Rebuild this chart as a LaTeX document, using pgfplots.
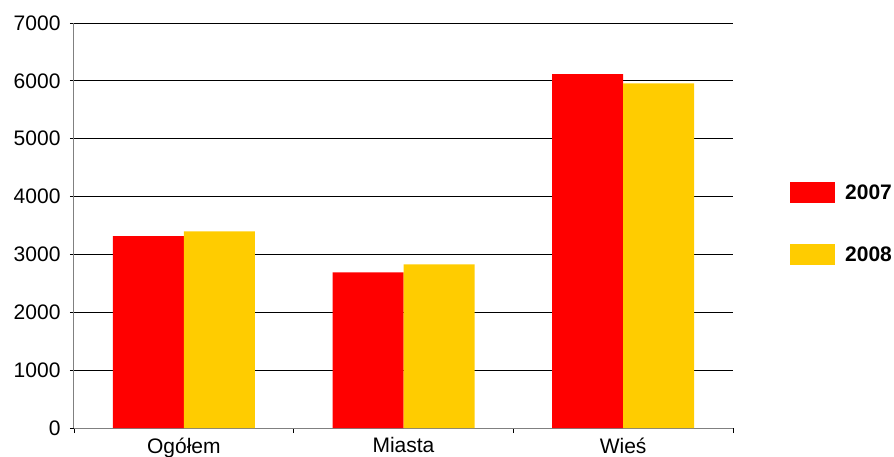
\documentclass[border=0pt]{standalone}
\usepackage{pgfplots}
\pgfplotsset{compat=1.18}
\usepackage{fontspec}
\setmainfont{Liberation Sans}
\definecolor{cred}{RGB}{255,0,0}
\definecolor{cyel}{RGB}{255,204,0}
\definecolor{axgray}{RGB}{128,128,128}
\begin{document}
\begin{tikzpicture}
\useasboundingbox (-74pt,-28pt) rectangle (820pt,428pt);
\begin{axis}[
  at={(0pt,0pt)}, anchor=south west,
  scale only axis,
  width=659pt, height=405pt,
  ymin=0, ymax=7000,
  ytick={0,1000,...,7000},
  xmin=-0.5, xmax=2.5,
  xtick={0,1,2},
  xticklabels={Ogółem,Miasta,Wieś},
  minor xtick={-0.5,0.5,1.5,2.5},
  axis x line=bottom, axis y line=left,
  axis line style={draw=axgray, line width=1pt, -},
  ymajorgrids,
  grid style={black, line width=0.8pt},
  tick align=outside,
  major tick length=4pt,
  minor tick length=5pt,
  x tick style={draw=none},
  minor x tick style={draw=black, line width=0.8pt},
  y tick style={draw=black, line width=0.8pt},
  scaled y ticks=false,
  /pgf/number format/assume math mode=true,
  /pgf/number format/1000 sep={},
  ticklabel style={font=\fontsize{21}{25}\selectfont},
  yticklabel style={xshift=-6pt},
  xticklabel style={yshift=-2pt},
  ybar=0pt, bar width=71pt,
  legend style={at={(rel axis cs:1.0865,0.505)}, anchor=west, draw=none, fill=none,
    font=\bfseries\fontsize{21}{25}\selectfont, inner sep=0pt,
    row sep=41pt,
    nodes={inner sep=0pt}},
  legend cell align=left,
]
\addplot[fill=cred, draw=none, legend image code/.code={\fill[cred] (0pt,-10.5pt) rectangle (45pt,10.5pt); \path (55pt,0pt);}]
  coordinates {(0,3317) (1,2689) (2,6117)};
\addlegendentry{2007}
\addplot[fill=cyel, draw=none, legend image code/.code={\fill[cyel] (0pt,-10.5pt) rectangle (45pt,10.5pt); \path (55pt,0pt);}]
  coordinates {(0,3400) (1,2827) (2,5955)};
\addlegendentry{2008}
\end{axis}
\end{tikzpicture}
\end{document}
